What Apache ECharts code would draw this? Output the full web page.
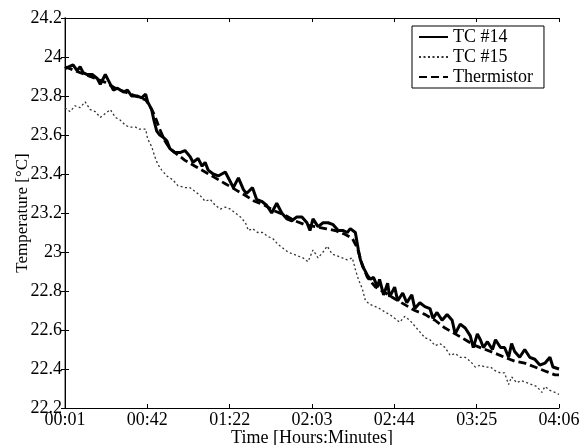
<!DOCTYPE html>
<html>
<head>
<meta charset="utf-8">
<script src="https://cdn.jsdelivr.net/npm/echarts@6/dist/echarts.min.js"></script>
<title>Temperature</title>
<style>
  html, body { margin: 0; padding: 0; background: #fff; }
  #container { width: 582px; height: 445px; }
</style>
</head>
<body>
<div id="container"></div>
<script>
// x values are minutes after 00:01
var tickLabels = ['00:01', '00:42', '01:22', '02:03', '02:44', '03:25', '04:06'];

var tc14Time = [0, 4, 6, 7.5, 9, 11, 13.5, 16, 17.5, 20, 21.5, 24, 26, 29, 31, 33, 36, 38, 40, 41,
  43, 44, 45.5, 47, 48.5, 50.5, 52, 54.5, 57, 59.5, 62, 63.5, 66, 68, 69.5, 71, 73.5, 76, 79.5, 82,
  83.5, 86, 88.5, 90, 93, 95, 97.5, 100, 102.5, 105, 107.5, 110, 112.5, 115, 117.5, 120, 121.5, 123, 125.5, 128,
  130.5, 133, 135.5, 138, 140, 141.5, 144, 145.5, 146.5, 148, 150, 151.5, 153, 155, 156, 158, 160, 161, 163.5, 165,
  167.5, 169.5, 172, 173.5, 176, 178.5, 181, 182.5, 184.5, 187, 189.5, 192, 193.5, 196, 198.5, 201, 202.5, 204.5, 206, 207.5,
  209.5, 212, 213.5, 216, 218, 220, 221.5, 223, 225.5, 228, 230.5, 233, 235.5, 238, 240.5, 242, 245];
var tc14Temp = [23.94, 23.96, 23.93, 23.95, 23.92, 23.91, 23.91, 23.89, 23.86, 23.91, 23.88, 23.83, 23.84, 23.82, 23.83, 23.80, 23.80, 23.79, 23.81, 23.77,
  23.73, 23.68, 23.62, 23.60, 23.59, 23.57, 23.53, 23.51, 23.51, 23.52, 23.49, 23.46, 23.48, 23.44, 23.46, 23.42, 23.40, 23.39, 23.41, 23.36,
  23.33, 23.38, 23.32, 23.30, 23.33, 23.27, 23.26, 23.24, 23.20, 23.25, 23.20, 23.17, 23.16, 23.18, 23.18, 23.15, 23.11, 23.17, 23.13, 23.15,
  23.15, 23.14, 23.11, 23.11, 23.10, 23.12, 23.10, 23.01, 22.96, 22.92, 22.88, 22.86, 22.87, 22.82, 22.86, 22.78, 22.84, 22.77, 22.82, 22.75,
  22.79, 22.74, 22.78, 22.71, 22.74, 22.72, 22.71, 22.66, 22.69, 22.65, 22.68, 22.65, 22.58, 22.63, 22.61, 22.57, 22.51, 22.58, 22.55, 22.51,
  22.54, 22.50, 22.55, 22.51, 22.51, 22.46, 22.53, 22.49, 22.46, 22.50, 22.46, 22.45, 22.42, 22.43, 22.46, 22.41, 22.40];

var tc15Time = [0, 2.5, 5, 7.5, 10, 12.5, 15, 17.5, 20, 22.5, 25, 27, 30, 32, 35, 37, 40, 41, 43, 44.5,
  46, 48, 50.5, 53.5, 56, 59.5, 62, 64.5, 67, 69.5, 72, 74.5, 77, 79.5, 82, 84.5, 87, 89.5, 91, 93,
  95.5, 98, 100.5, 103, 105.5, 108, 110.5, 113, 115.5, 118, 120.5, 123, 125.5, 128, 130, 132.5, 135, 137.5, 140, 142.5,
  144, 145.5, 147.5, 149, 151.5, 154, 156, 159, 161, 163.5, 166, 168.5, 171, 173.5, 176, 178.5, 181, 183.5, 186, 188.5,
  191, 193.5, 196, 198.5, 201, 203.5, 206, 208.5, 211, 213.5, 216, 218, 220, 221.5, 224, 226.5, 229, 231.5, 234, 236.5,
  238, 240.5, 243, 245];
var tc15Temp = [23.74, 23.72, 23.75, 23.74, 23.77, 23.73, 23.72, 23.69, 23.71, 23.73, 23.69, 23.68, 23.65, 23.64, 23.64, 23.63, 23.63, 23.58, 23.54, 23.49,
  23.45, 23.42, 23.39, 23.37, 23.34, 23.33, 23.33, 23.31, 23.29, 23.26, 23.27, 23.24, 23.22, 23.23, 23.22, 23.20, 23.18, 23.15, 23.11, 23.12,
  23.10, 23.10, 23.08, 23.07, 23.04, 23.02, 23.00, 22.99, 22.98, 22.97, 22.95, 23.01, 22.97, 23.00, 23.03, 22.99, 22.98, 22.97, 22.96, 22.97,
  22.91, 22.86, 22.81, 22.75, 22.73, 22.72, 22.71, 22.69, 22.68, 22.66, 22.64, 22.67, 22.65, 22.62, 22.59, 22.56, 22.55, 22.52, 22.53, 22.51,
  22.47, 22.48, 22.46, 22.46, 22.44, 22.41, 22.42, 22.41, 22.41, 22.39, 22.38, 22.38, 22.32, 22.36, 22.33, 22.34, 22.33, 22.32, 22.31, 22.28,
  22.31, 22.29, 22.28, 22.27];

var thermTime = [0, 5, 10, 15, 20, 25, 30, 35, 40, 42, 44.5, 47, 49.5, 52, 54.5, 59.5, 64.5, 69.5, 74.5, 79.5,
  84.5, 89.5, 94, 99, 104, 109, 114, 119, 124, 129, 134, 139, 142.5, 145, 147.5, 150, 154, 159, 163.5, 168.5,
  173.5, 178.5, 183.5, 188.5, 193.5, 198.5, 203.5, 208.5, 213.5, 218, 223, 228, 233, 238, 243, 245];
var thermTemp = [23.95, 23.93, 23.91, 23.89, 23.87, 23.84, 23.82, 23.80, 23.78, 23.75, 23.70, 23.63, 23.57, 23.53, 23.51, 23.47, 23.44, 23.41, 23.38, 23.35,
  23.32, 23.29, 23.26, 23.24, 23.21, 23.19, 23.16, 23.14, 23.13, 23.12, 23.11, 23.09, 23.07, 23.02, 22.93, 22.87, 22.82, 22.79, 22.76, 22.73,
  22.70, 22.68, 22.65, 22.61, 22.58, 22.55, 22.52, 22.50, 22.48, 22.46, 22.44, 22.43, 22.41, 22.39, 22.37, 22.37];

function pairs(xs, ys) {
  var out = [];
  for (var i = 0; i < xs.length; i++) out.push([xs[i], ys[i]]);
  return out;
}

var font = 'Liberation Serif';
var step = 245 / (tickLabels.length - 1);

var myChart = echarts.init(document.getElementById('container'));

var option = {
  animation: false,
  backgroundColor: '#fff',
  grid: { left: 65, right: 23, top: 18, bottom: 37, outerBoundsMode: 'none', containLabel: false },
  legend: {
    orient: 'vertical',
    left: 412, top: 26,
    padding: [2, 11, 2, 6],
    itemGap: 2,
    itemWidth: 29,
    itemHeight: 18,
    borderColor: '#000',
    borderWidth: 1,
    backgroundColor: '#fff',
    itemStyle: { opacity: 0 },
    textStyle: { fontFamily: font, fontSize: 18, color: '#000' },
    data: ['TC #14', 'TC #15', 'Thermistor']
  },
  xAxis: [{
    type: 'value',
    min: 0, max: 245, interval: step,
    name: 'Time [Hours:Minutes]',
    nameLocation: 'middle',
    nameGap: 21,
    nameMoveOverlap: false,
    nameTextStyle: { fontFamily: font, fontSize: 18, color: '#000' },
    axisLine: { lineStyle: { color: '#000', width: 1 } },
    axisTick: { inside: true, length: 4, lineStyle: { color: '#000' } },
    axisLabel: {
      fontFamily: font, fontSize: 18, color: '#000', margin: 3,
      formatter: function (v) { return tickLabels[Math.round(v / step)]; }
    },
    splitLine: { show: false }
  }, {
    type: 'value', position: 'top',
    min: 0, max: 245, interval: step,
    axisLine: { show: true, lineStyle: { color: '#000', width: 1 } },
    axisTick: { inside: true, length: 4, lineStyle: { color: '#000' } },
    axisLabel: { show: false },
    splitLine: { show: false }
  }],
  yAxis: [{
    type: 'value',
    min: 22.2, max: 24.2, interval: 0.2,
    name: 'Temperature [°C]',
    nameLocation: 'middle',
    nameGap: 34,
    nameMoveOverlap: false,
    nameTextStyle: { fontFamily: font, fontSize: 17, color: '#000' },
    axisLine: { show: true, lineStyle: { color: '#999', width: 2 } },
    axisTick: { inside: true, length: 4, lineStyle: { color: '#000' } },
    axisLabel: {
      fontFamily: font, fontSize: 18, color: '#000', margin: 3,
      formatter: function (v) { return String(+v.toFixed(1)); }
    },
    splitLine: { show: false }
  }, {
    type: 'value', position: 'right',
    min: 22.2, max: 24.2, interval: 0.2,
    axisLine: { show: true, lineStyle: { color: '#000', width: 1 } },
    axisTick: { inside: true, length: 4, lineStyle: { color: '#000' } },
    axisLabel: { show: false },
    splitLine: { show: false }
  }],
  series: [{
    name: 'TC #15',
    type: 'line',
    data: pairs(tc15Time, tc15Temp),
    symbol: 'none',
    color: '#333',
    lineStyle: { color: '#333', width: 1.3, type: [2, 2.5] }
  }, {
    name: 'Thermistor',
    type: 'line',
    data: pairs(thermTime, thermTemp),
    symbol: 'none',
    color: '#000',
    lineStyle: { color: '#000', width: 2.8, type: [8, 4] }
  }, {
    name: 'TC #14',
    type: 'line',
    data: pairs(tc14Time, tc14Temp),
    symbol: 'none',
    color: '#000',
    lineStyle: { color: '#000', width: 3 }
  }]
};

myChart.setOption(option);
</script>
</body>
</html>
